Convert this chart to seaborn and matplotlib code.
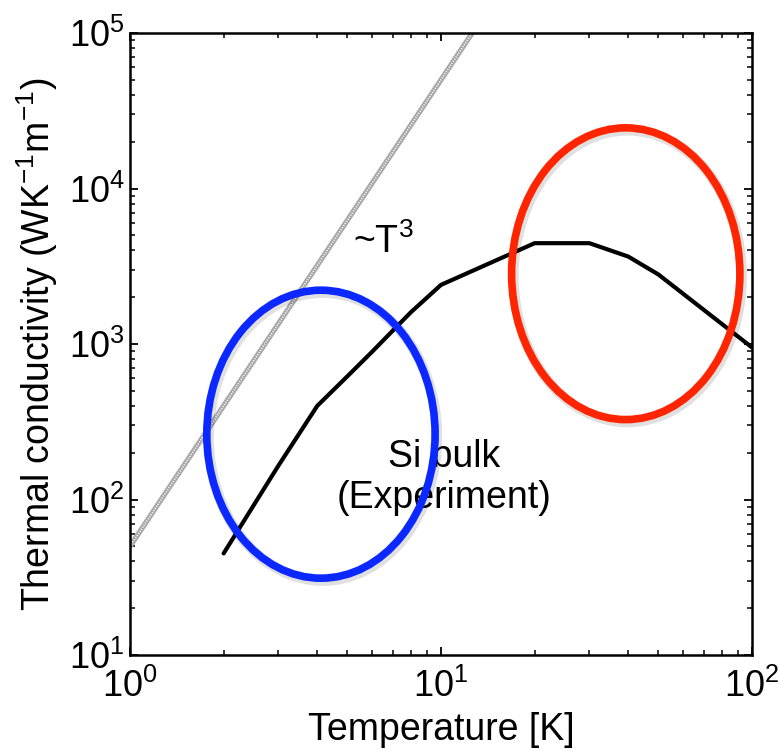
import matplotlib
matplotlib.use("Agg")
import matplotlib.pyplot as plt
from matplotlib.patches import Ellipse
import seaborn as sns
import pandas as pd

# ---- data ----
temperature_K = [2, 3, 4, 5, 6, 7, 8, 10, 20, 30, 40, 50, 100]
conductivity = [45, 165, 400, 620, 890, 1220, 1600, 2400, 4450, 4450, 3650, 2800, 950]

t3_T = [1.0, 12.6]
t3_k = [50, 1.0e5]

x_label = "Temperature [K]"
y_label = "Thermal conductivity (WK$^{-1}$m$^{-1}$)"
t3_text = "~T$^{3}$"
sample_line1 = "Si bulk"
sample_line2 = "(Experiment)"

# ---- style ----
sns.set_theme(style="ticks")
plt.rcParams["font.family"] = ["Liberation Sans", "DejaVu Sans"]
plt.rcParams["mathtext.fontset"] = "custom"
plt.rcParams["mathtext.rm"] = "Liberation Sans"
plt.rcParams["mathtext.it"] = "Liberation Sans"
plt.rcParams["mathtext.default"] = "regular"
for key in ["text.color", "axes.labelcolor", "xtick.color", "ytick.color",
            "xtick.labelcolor", "ytick.labelcolor", "axes.edgecolor"]:
    plt.rcParams[key] = "black"

fig = plt.figure(figsize=(7.8, 7.55), dpi=100)
ax = fig.add_axes([130 / 780, 100 / 755, 622 / 780, 622 / 755])

df = pd.DataFrame({"T": temperature_K, "k": conductivity})
dft3 = pd.DataFrame({"T": t3_T, "k": t3_k})

# ~T^3 guide line (grey rope-like)
sns.lineplot(data=dft3, x="T", y="k", ax=ax, color="#a8a8a8", lw=3.8, zorder=2)
ax.plot(t3_T, t3_k, color="white", lw=1.2, dashes=(0.6, 0.9), zorder=2.1)

# experimental curve
sns.lineplot(data=df, x="T", y="k", ax=ax, color="black", lw=3.0, zorder=3)

ax.set_xscale("log")
ax.set_yscale("log")
ax.set_xlim(1, 100)
ax.set_ylim(10, 1e5)

for s in ax.spines.values():
    s.set_linewidth(1.8)
    s.set_color("black")
    s.set_visible(True)

ax.tick_params(which="both", direction="in", top=True, right=True, color="black")
ax.tick_params(which="major", length=6, width=1.3)
ax.tick_params(which="minor", length=3.5, width=1.1)
ax.tick_params(axis="y", which="major", labelsize=26, pad=4)
ax.tick_params(axis="x", which="major", labelsize=26, pad=10)

ax.set_xlabel(x_label, fontsize=27, labelpad=5)
ax.set_ylabel(y_label, fontsize=27, labelpad=6)

ax.text(0.3585, 0.646, t3_text, transform=ax.transAxes, fontsize=27,
        ha="left", va="baseline", zorder=5)
ax.text(0.505, 0.302, sample_line1, transform=ax.transAxes, fontsize=27,
        ha="center", va="baseline", zorder=5)
ax.text(0.505, 0.236, sample_line2, transform=ax.transAxes, fontsize=27,
        ha="center", va="baseline", zorder=5)

ellipses = [((0.307, 0.355), 0.367, 0.463, "#0a28ff"),
            ((0.797, 0.613), 0.367, 0.469, "#ff2500")]
for (cx, cy), w, h, col in ellipses:
    sh = Ellipse((cx + 0.003, cy - 0.004), w, h, transform=ax.transAxes, fill=False,
                 edgecolor="black", alpha=0.12, lw=7.5, zorder=5.5, clip_on=False)
    ax.add_patch(sh)
    e = Ellipse((cx, cy), w, h, transform=ax.transAxes, fill=False,
                edgecolor=col, lw=5.5, zorder=6, clip_on=False)
    ax.add_patch(e)

fig.savefig("out.png", dpi=100)
